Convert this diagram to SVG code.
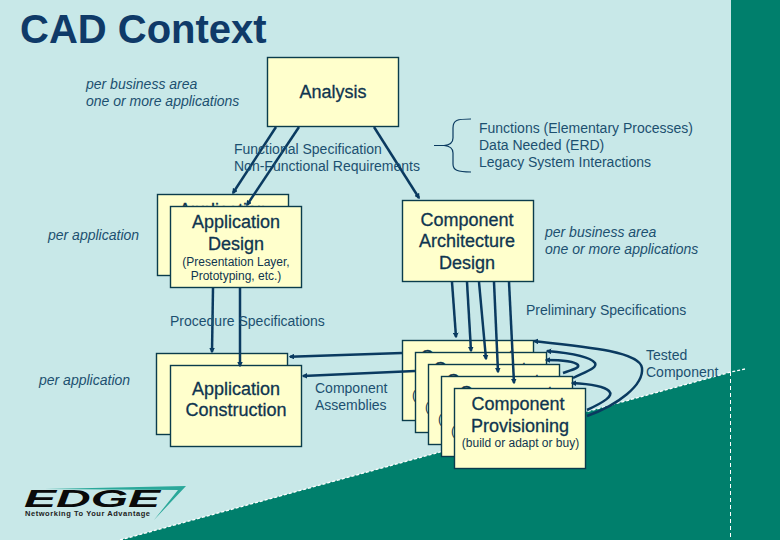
<svg xmlns="http://www.w3.org/2000/svg" width="780" height="540" viewBox="0 0 780 540">
<defs>
<marker id="dot" viewBox="0 0 8 8" refX="6" refY="4" markerWidth="2.300" markerHeight="2.300" orient="auto"><path d="M0 0L8 4L0 8Z" fill="#0a3a60"/></marker>
</defs>
<style>
text{font-family:"Liberation Sans",Arial,sans-serif;fill:#123f60}
.box{fill:#ffffcc;stroke:#0a3c4c;stroke-width:1.4}
.c{fill:none;stroke:#0a3a60;stroke-width:2.5;marker-end:url(#dot)}
.h{font-size:18px;text-anchor:middle;fill:#0f3550;stroke:#0f3550;stroke-width:.3}
.s{font-size:12px;text-anchor:middle;fill:#0f3550}
.l{font-size:14px;fill:#1c5070}
.i{font-size:14px;font-style:italic;fill:#1c5070}
</style>
<rect width="780" height="540" fill="#c8e8e8"/>
<path d="M120 540L731 372L780 360V540Z" fill="#007f6c"/>
<rect x="731" y="0" width="49" height="540" fill="#007f6c"/>
<path d="M120 540L731 372L745 369" fill="none" stroke="#fff" stroke-width="1.300" stroke-dasharray="3 2"/>
<path d="M730.500 372V540" fill="none" stroke="#fff" stroke-width="1" stroke-dasharray="4 3"/>

<text x="20" y="43" font-size="40" font-weight="700" style="fill:#0f3a68">CAD Context</text>

<text class="i" x="86" y="89">per business area</text>
<text class="i" x="86" y="106">one or more applications</text>
<text class="i" x="48" y="240">per application</text>
<text class="i" x="39" y="385">per application</text>
<text class="i" x="545" y="237">per business area</text>
<text class="i" x="545" y="254">one or more applications</text>

<g id="analysis"><rect class="box" x="267.500" y="57.500" width="131" height="69"/><text class="h" x="333" y="98">Analysis</text></g>

<g id="design-back"><rect class="box" x="157.500" y="194.500" width="131" height="81"/><text class="h" x="223" y="216">Application</text></g>
<g id="design"><rect class="box" x="170.500" y="206.500" width="131" height="81"/><text class="h" x="236" y="228">Application</text><text class="h" x="236" y="250">Design</text><text class="s" x="236" y="266">(Presentation Layer,</text><text class="s" x="236" y="280">Prototyping, etc.)</text></g>
<g id="architecture"><rect class="box" x="402.500" y="200.500" width="131" height="81"/><text class="h" x="467" y="226">Component</text><text class="h" x="467" y="247">Architecture</text><text class="h" x="467" y="269">Design</text></g>
<g id="construction-back"><rect class="box" x="156.500" y="353.500" width="131" height="81"/></g>
<g id="construction"><rect class="box" x="170.500" y="365.500" width="131" height="81"/><text class="h" x="236" y="395">Application</text><text class="h" x="236" y="416">Construction</text></g>

<g id="provisioning-1"><rect class="box" x="402.500" y="340.500" width="131" height="80"/><text class="h" x="467" y="363">Component</text><text class="s" x="414" y="399">(</text></g>
<g id="provisioning-2"><rect class="box" x="415.500" y="352.500" width="131" height="80"/><text class="h" x="480" y="375">Component</text><text class="s" x="427" y="411">(</text></g>
<g id="provisioning-3"><rect class="box" x="428.500" y="364.500" width="131" height="80"/><text class="h" x="493" y="387">Component</text><text class="s" x="440" y="423">(</text></g>
<g id="provisioning-4"><rect class="box" x="441.500" y="376.500" width="131" height="80"/><text class="h" x="506" y="399">Component</text><text class="s" x="453" y="435">(</text></g>
<g id="provisioning-5"><rect class="box" x="454.500" y="388.500" width="131" height="80"/><text class="h" x="518" y="410">Component</text><text class="h" x="520" y="432">Provisioning</text><text class="s" x="520.500" y="447">(build or adapt or buy)</text></g>

<g id="connectors">
<path class="c" d="M276 127L233 193"/>
<path class="c" d="M299 127L247 205"/>
<path class="c" d="M374 127L419 198"/>
<path class="c" d="M213 288L212 352"/>
<path class="c" d="M240 288V366"/>
<path class="c" d="M452 282L456 337"/>
<path class="c" d="M467 282L471 351"/>
<path class="c" d="M479 282L486 359"/>
<path class="c" d="M494 282L498 372"/>
<path class="c" d="M509 282L514 383"/>
<path class="c" d="M402 353L290 356.700"/>
<path class="c" d="M415 371L303 376"/>
<path class="c" d="M587 416C618 405 644 385 642 368C640 352 590 347 534 341"/>
<path class="c" d="M587 410C604 402 614 396 609 391C604 386 590 384 572 383"/>
<path class="c" d="M573 378C585 372 598 368 595 363C590 356 570 353 547 351"/>
<path class="c" d="M563 373C572 370 580 368 578 365C574 361 560 360 546 360"/>
</g>

<g id="brace"><path d="M471 119C457 119 453 120 453 128V138C453 143 450 145 444 145.500L434 145.500M444 145.500C450 146 453 148 453 153V164C453 170 457 172 471 172" fill="none" stroke="#0a3a60" stroke-width="1.200"/></g>

<text class="l" x="234" y="154">Functional Specification</text>
<text class="l" x="234" y="171">Non-Functional Requirements</text>
<text class="l" x="479" y="133">Functions (Elementary Processes)</text>
<text class="l" x="479" y="150">Data  Needed (ERD)</text>
<text class="l" x="479" y="167">Legacy System Interactions</text>
<text class="l" x="526" y="315">Preliminary Specifications</text>
<text class="l" x="170" y="326">Procedure Specifications</text>
<text class="l" x="646" y="360">Tested</text>
<text class="l" x="646" y="377">Component</text>
<text class="l" x="315" y="393">Component</text>
<text class="l" x="315" y="410">Assemblies</text>

<g id="logo">
<path d="M45 489L186 486L154 520L178 490Z" fill="#2aa89a"/>
<text x="24" y="507" font-size="24" font-weight="700" font-style="italic" textLength="136" lengthAdjust="spacingAndGlyphs" style="fill:#0a0a0a">EDGE</text>
<text x="25" y="516" font-size="7.500" font-weight="700" textLength="125" style="fill:#222">Networking To Your Advantage</text>
</g>
</svg>
